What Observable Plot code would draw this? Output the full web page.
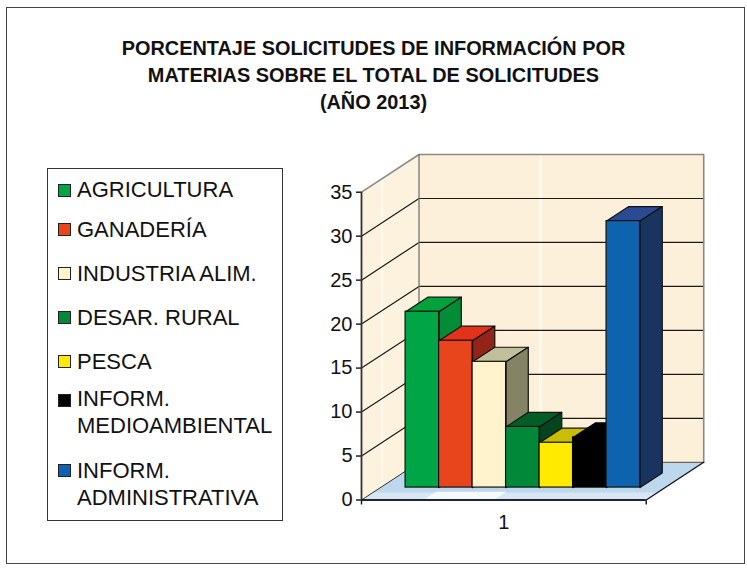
<!DOCTYPE html>
<html lang="es"><head><meta charset="utf-8">
<script src="https://cdn.jsdelivr.net/npm/d3@7"></script>
<script src="https://cdn.jsdelivr.net/npm/@observablehq/plot@0.6"></script>
<style>
html,body{margin:0;padding:0;background:#fff;overflow:hidden}
#page{position:relative;width:747px;height:572px;font-family:"Liberation Sans",Arial,sans-serif;color:#111}
#frame{position:absolute;left:6px;top:7px;width:737px;height:555px;border:1.5px solid #444;box-sizing:content-box}
#chart{position:absolute;left:0;top:0}
#chart svg{display:block;background:transparent}
#title{position:absolute;left:0;width:747px;top:34.5px;margin:0;text-align:center;font:bold 19.9px/27px "Liberation Sans",Arial,sans-serif;color:#111}
#legend{position:absolute;left:46.5px;top:167.5px;width:236px;height:353px;border:1.4px solid #333;border-bottom-width:1.6px;box-sizing:border-box;background:#fff}
.row{position:absolute;left:29.5px;font-size:22px;line-height:27.5px;white-space:nowrap;color:#111}
.sw{position:absolute;left:10px;width:13.4px;height:13.4px;box-sizing:border-box;border:1px solid #222}
</style></head><body>
<div id="page">
<div id="frame"></div>
<div id="chart"></div>
<h1 id="title"></h1>
<div id="legend"></div>
</div>
<script>
const titleLines = ["PORCENTAJE SOLICITUDES DE INFORMACIÓN POR","MATERIAS SOBRE EL TOTAL DE SOLICITUDES","(AÑO 2013)"];
const categories = ["AGRICULTURA","GANADERÍA","INDUSTRIA ALIM.","DESAR. RURAL","PESCA","INFORM. MEDIOAMBIENTAL","INFORM. ADMINISTRATIVA"];
const values = [20.0,16.7,14.3,6.9,5.1,5.7,30.3];
const frontColors = ["#00a546","#e9451c","#fef3cc","#018939","#ffea00","#000000","#0d63ad"];
const topColors   = ["#00a23c","#e2321a","#c1c09a","#035e26","#c9bd00","#000000","#2a4a93"];
const sideColors  = ["#028c36","#93241a","#858366","#064420","#8a8000","#000000","#19355f"];
const legendLines = [["AGRICULTURA"],["GANADERÍA"],["INDUSTRIA ALIM."],["DESAR. RURAL"],["PESCA"],["INFORM.","MEDIOAMBIENTAL"],["INFORM.","ADMINISTRATIVA"]];
const legendTextTops = [7,47,91,135,179,216,288];
const legendSwatchTops = [15.5,54,98,142,186,225.5,295.5];
const yTicks = [0,5,10,15,20,25,30,35];
const xLabel = "1";

// oblique projection: a point at depth d (0 front, 1 back) moves right and up, in scale units
const X0 = -0.75, X1 = 7.75, YMAX = 35, DX = 1.717, DY = 4.284, T0 = 0.33, T1 = 0.716;
const P = (x, v, d) => ({x: x + d * DX, y: v + d * DY});
const face = (pts, fill, stroke, strokeWidth = 1.2) =>
  Plot.line([...pts, pts[0]], {x: "x", y: "y", fill, stroke: stroke ?? "none", strokeWidth, strokeLinejoin: "round", curve: "linear"});
const poly = (pts, stroke, strokeWidth = 1.4) =>
  Plot.line(pts, {x: "x", y: "y", stroke, strokeWidth, curve: "linear"});

const bars = categories.map((c, i) => ({c, i, v: values[i]}));
const marks = [
  // walls
  face([P(X0,0,0),P(X0,YMAX,0),P(X0,YMAX,1),P(X0,0,1)], "#fdf2de"),
  face([P(X0,0,1),P(X0,YMAX,1),P(X1,YMAX,1),P(X1,0,1)], "#fdf0da"),
  // soft light streaks of the wall texture
  poly([P(X0,0,0.36),P(X0,YMAX,0.36)], "#fff9f0", 2),
  poly([P(2.88,0,1),P(2.88,YMAX,1)], "#fff9f0", 3),
  // floor
  face([P(X0,0,0),P(X1,0,0),P(X1,0,1),P(X0,0,1)], "#bdd7ec"),
  face([P(X0,0,0),P(X1,0,0),P(X1,0,0.2),P(X0,0,0.2)], "#d9e7f4"),
  face([P(1.1,0,0.03),P(3.2,0,0.03),P(3.2,0,0.22),P(1.1,0,0.22)], "#f7fafd"),
  // grid
  ...yTicks.filter(v => v > 0 && v < YMAX).map(v => poly([P(X0,v,0),P(X0,v,1),P(X1,v,1)], "#1a1a1a", 1.2)),
  // wall outline
  poly([P(X0,YMAX,0),P(X0,YMAX,1),P(X1,YMAX,1),P(X1,0,1)], "#8d8a86", 1.6),
  poly([P(X0,YMAX,1),P(X0,0,1)], "#77746f", 1.3),
  poly([P(X0,0,1),P(X1,0,1)], "#6f675a", 1.4),
  poly([P(X0,0,0),P(X0,0,1)], "#333", 1),
  poly([P(X1,0,0),P(X1,0,1)], "#111", 1.3),
  // axes
  Plot.axisY({ticks: yTicks, tickSize: 5, tickPadding: 4, fontSize: 20, label: null, color: "#111", strokeWidth: 1.4, fontFamily: "Liberation Sans"}),
  Plot.axisX({ticks: [X0, X1], tickSize: 5, tickFormat: () => "", label: null, color: "#111", strokeWidth: 1.4}),
  Plot.axisX({ticks: [(X0 + X1) / 2], tickSize: 0, tickPadding: 15, tickFormat: () => xLabel, label: null, fontSize: 20, color: "#111", fontFamily: "Liberation Sans"}),
  Plot.ruleX([X0], {y1: 0, y2: YMAX, stroke: "#333", strokeWidth: 1.8}),
  Plot.ruleY([0], {x1: X0, x2: X1, stroke: "#1c2733", strokeWidth: 2}),
  // bars, painted left to right
  ...bars.flatMap(({c, i, v}) => {
    const line = i === 5 ? "#000" : "#111";
    return [
      face([P(i,v,T0),P(i+1,v,T0),P(i+1,v,T1),P(i,v,T1)], topColors[i], line),
      face([P(i+1,0,T0),P(i+1,v,T0),P(i+1,v,T1),P(i+1,0,T1)], sideColors[i], line),
      Plot.rect([{c, i, v}], {
        x1: d => d.i + T0 * DX,
        x2: d => d.i + 1 + T0 * DX,
        y1: () => T0 * DY,
        y2: d => d.v + T0 * DY,
        fill: "c",
        stroke: line,
        strokeWidth: 1.2
      })
    ];
  })
];

const svg = Plot.plot({
  width: 747, height: 572,
  marginLeft: 361, marginRight: 44, marginTop: 191.7, marginBottom: 72.5,
  style: {background: "transparent", overflow: "visible"},
  x: {domain: [X0, X1], range: [361, 645.7]},
  y: {domain: [0, YMAX], range: [499.5, 191.7]},
  color: {domain: categories, range: frontColors},
  marks
});
document.getElementById("chart").append(svg);

const title = document.getElementById("title");
titleLines.forEach((t, i) => { if (i) title.append(document.createElement("br")); title.append(t); });

const legend = document.getElementById("legend");
categories.forEach((c, i) => {
  const sw = document.createElement("div");
  sw.className = "sw";
  sw.style.top = legendSwatchTops[i] + "px";
  sw.style.background = frontColors[i];
  legend.append(sw);
  const row = document.createElement("div");
  row.className = "row";
  row.style.top = legendTextTops[i] + "px";
  legendLines[i].forEach((t, k) => { if (k) row.append(document.createElement("br")); row.append(t); });
  legend.append(row);
});
</script>
</body></html>
